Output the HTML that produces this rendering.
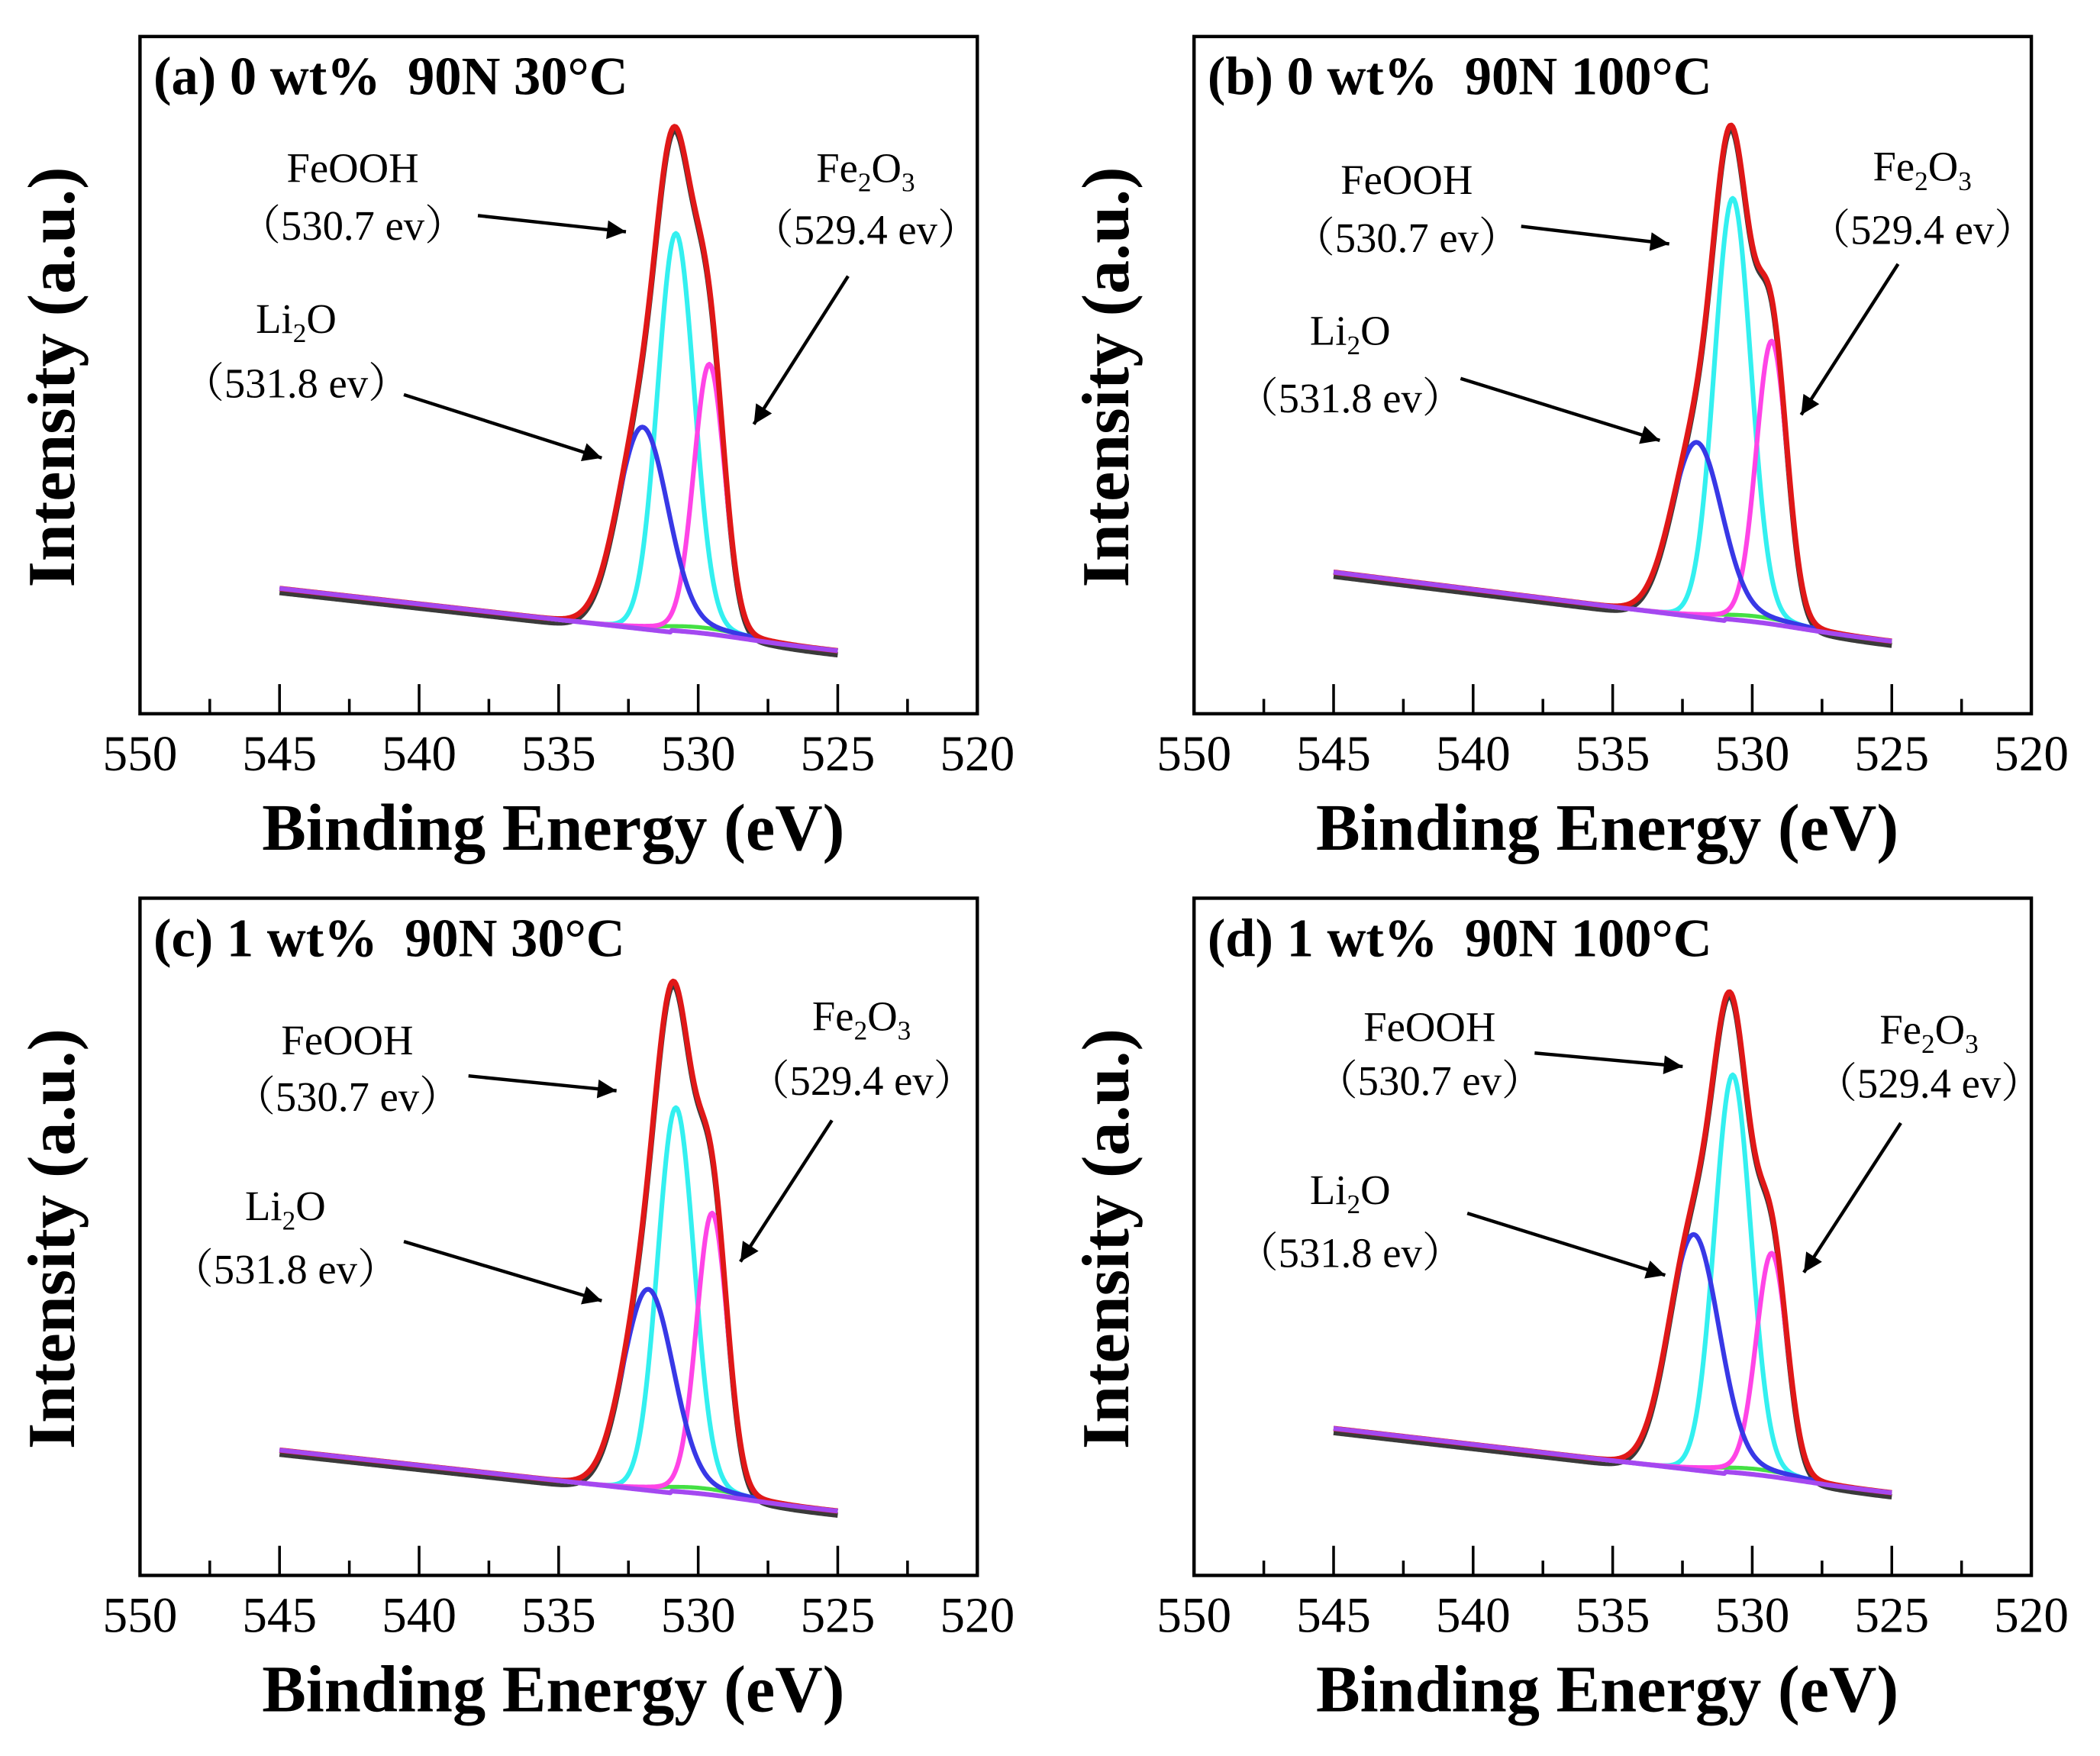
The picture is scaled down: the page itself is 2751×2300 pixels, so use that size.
<!DOCTYPE html>
<html><head><meta charset="utf-8"><style>
html,body{margin:0;padding:0;background:#fff}
svg{display:block}
text{font-family:"Liberation Serif","Noto Serif CJK SC",serif;white-space:pre}
</style></head><body>
<svg id="fig" xmlns="http://www.w3.org/2000/svg" width="2751" height="2300" viewBox="0 0 1560 1304"></svg>
<script>
// ---- data (binding energies in eV, intensities in arbitrary units 0-100) ----
const panelIds = ['a','b','c','d'];
const panelTitles = ['(a) 0 wt%  90N 30°C','(b) 0 wt%  90N 100°C','(c) 1 wt%  90N 30°C','(d) 1 wt%  90N 100°C'];
const xTicks = [550,545,540,535,530,525,520];
const baselineStart = [18.5,20.9,18.5,21.7];   // intensity at 545 eV
const baselineEnd = [9.3,10.7,9.5,12.2];       // intensity at 525 eV
const li2oCenter = [532.0,532.0,531.8,532.1];
const li2oHeight = [29.4,25.4,29.2,34.4];
const feoohCenter = [530.8,530.7,530.8,530.7];
const feoohHeight = [58.0,61.5,56.0,58.0];
const fe2o3Center = [529.6,529.3,529.5,529.3];
const fe2o3Height = [39.0,41.0,40.8,32.2];
const li2oSigma = 0.9, feoohSigma = 0.65, fe2o3Sigma = 0.55;
// annotation positions are layout, kept separately
const layout = [
 {x0:104,y0:27,feooh:[262,125,168,355,160,465,172],fe2o3:[643,125,171,630,205,560,315],li2o:[220,237,285,300,293,447,340]},
 {x0:887,y0:27,feooh:[1045,134,177,1130,168,1240,181],fe2o3:[1428,124,171,1410,196,1338,308],li2o:[1003,246,296,1085,281,1233,327]},
 {x0:104,y0:667,feooh:[258,773,815,348,799,458,810],fe2o3:[640,755,803,618,832,550,937],li2o:[212,896,943,300,922,447,966]},
 {x0:887,y0:667,feooh:[1062,763,803,1140,782,1250,792],fe2o3:[1433,765,805,1412,834,1340,945],li2o:[1003,884,931,1090,901,1237,947]}
];
const NS='http://www.w3.org/2000/svg';
const svg=document.getElementById('fig');
const defs=document.createElementNS(NS,'defs');
defs.innerHTML='<marker id="ah" viewBox="0 0 10 10" refX="10" refY="5" markerWidth="26" markerHeight="14" orient="auto" markerUnits="userSpaceOnUse"><path d="M0,0 L10,5 L0,10 z" fill="#000"/></marker>';
svg.appendChild(defs);
function el(tag,attrs,parent){const e=document.createElementNS(NS,tag);for(const k in attrs)e.setAttribute(k,attrs[k]);(parent||svg).appendChild(e);return e;}
const W=622,H=503;
function gauss(x,c,h,s){return h*Math.exp(-(x-c)*(x-c)/(2*s*s));}
panelIds.forEach((id,i)=>{
 const L=layout[i];
 const g=el('g',{});
 
 
 const sx=v=>L.x0+(550-v)/30*W;
 const sy=v=>L.y0+H-v/100*H;
 const base=x=>baselineStart[i]+(baselineEnd[i]-baselineStart[i])*(545-x)/20;
 const bump=x=>gauss(x,529.8,1.2,1.5);
 const comps={
  li2o:x=>gauss(x,li2oCenter[i],li2oHeight[i],li2oSigma),
  feooh:x=>gauss(x,feoohCenter[i],feoohHeight[i],feoohSigma),
  fe2o3:x=>gauss(x,fe2o3Center[i],fe2o3Height[i],fe2o3Sigma)
 };
 function path(fn,name,color,w){
  let d='';
  for(let k=0;k<=400;k++){const x=545-k*0.05;d+=(k?'L':'M')+sx(x).toFixed(2)+','+sy(fn(x)).toFixed(2);}
  const p=el('path',{d:d,fill:'none',stroke:color,'stroke-width':w,'stroke-linejoin':'round'},g);
  
  
 }
 const env=x=>base(x)+bump(x)+comps.li2o(x)+comps.feooh(x)+comps.fe2o3(x);
 path(x=>env(x)-0.6,'raw-data-line','#3a3a3a',4);
 path(x=>base(x)+bump(x),'background-green','#44e044',3);
 path(x=>base(x)+bump(x)+comps.feooh(x),'feooh-peak','#33f0f0',3.5);
 path(x=>base(x)+bump(x)+comps.fe2o3(x),'fe2o3-peak','#ff44e6',3.5);
 path(x=>base(x)+bump(x)+comps.li2o(x),'li2o-peak','#3838e6',3.5);
 path(env,'envelope-fit','#e01818',4);
 path(x=>base(x)+(x<531?bump(x)*0.3:0),'baseline-purple','#a448f0',3.5);
 const fr=el('rect',{x:L.x0,y:L.y0,width:W,height:H,fill:'none',stroke:'#000','stroke-width':2.5},g);
 
 
 for(let v=550;v>=520;v-=2.5){
  const major=Math.abs(v%5)<1e-6;
  const t=el('line',{x1:sx(v),x2:sx(v),y1:L.y0+H,y2:L.y0+H-(major?22:11),stroke:'#000','stroke-width':2},g);
  
  
 }
 xTicks.forEach(v=>{
  const t=el('text',{x:sx(v),y:L.y0+H+42,'text-anchor':'middle','font-size':37},g);
  t.textContent=v;
  
  
 });
 const xt=el('text',{x:L.x0+W/2-4,y:L.y0+H+101,'text-anchor':'middle','font-size':49,'font-weight':'bold'},g);
 xt.textContent='Binding Energy (eV)';
 
 
 const yx=L.x0-49, yy=L.y0+253;
 const yt=el('text',{x:yx,y:yy,'text-anchor':'middle','font-size':50,'font-weight':'bold',transform:`rotate(-90 ${yx} ${yy})`},g);
 yt.textContent='Intensity (a.u.)';
 
 
 const tt=el('text',{x:L.x0+10,y:L.y0+43,'font-size':40,'font-weight':'bold'},g);
 tt.textContent=panelTitles[i];
 
 
 function ann(a,labelHtml,paren,name){
  const t1=el('text',{x:a[0],y:a[1]+10,'text-anchor':'middle','font-size':31},g);
  t1.innerHTML=labelHtml;
  
  
  const t2=el('text',{x:a[0],y:a[2]+10,'text-anchor':'middle','font-size':31},g);
  t2.textContent=paren;
  
  
  const ar=el('line',{x1:a[3],y1:a[4],x2:a[5],y2:a[6],stroke:'#000','stroke-width':2.5,'marker-end':'url(#ah)'},g);
  
  
 }
 ann(L.feooh,'FeOOH','（530.7 ev）','feooh');
 ann(L.fe2o3,'Fe<tspan font-size="20" dy="7">2</tspan><tspan dy="-7">O</tspan><tspan font-size="20" dy="7">3</tspan>','（529.4 ev）','fe2o3');
 ann(L.li2o,'Li<tspan font-size="20" dy="7">2</tspan><tspan dy="-7">O</tspan>','（531.8 ev）','li2o');
});
</script>
</body></html>
